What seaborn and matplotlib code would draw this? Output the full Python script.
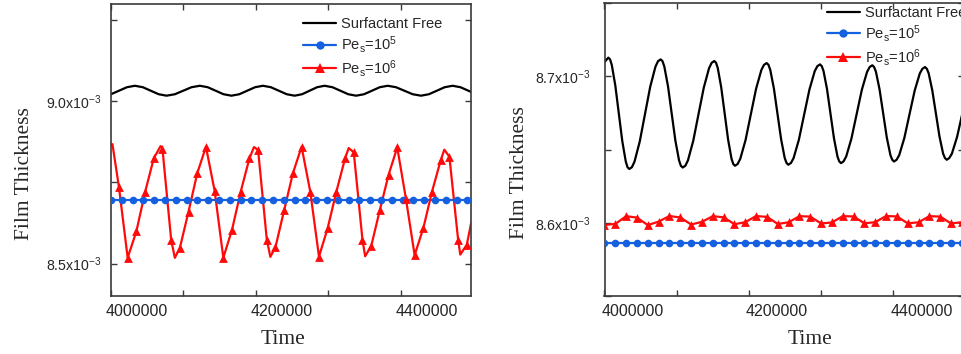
import numpy as np
import pandas as pd
import matplotlib
matplotlib.use("Agg")
import matplotlib.pyplot as plt
import matplotlib.transforms as mtransforms
from matplotlib.ticker import MultipleLocator, FuncFormatter
from matplotlib.lines import Line2D
import seaborn as sns

sns.set_style("ticks")
plt.rcParams["font.family"] = ["Liberation Sans", "DejaVu Sans"]
plt.rcParams["mathtext.fontset"] = "custom"
plt.rcParams["mathtext.rm"] = "Liberation Sans"
plt.rcParams["mathtext.it"] = "Liberation Sans"

# ---------------- data (film thickness in units of 1e-3) ----------------
legend_labels = ["Surfactant Free", r"Pe$_\mathregular{s}$=10$^\mathregular{5}$",
                 r"Pe$_\mathregular{s}$=10$^\mathregular{6}$"]

# Left panel: surfactant free (black)
left_free_t = [3989000, 4000000, 4011000, 4022000, 4033000, 4043900, 4054850, 4065800, 4076700,
               4088200, 4099650, 4111100, 4122600, 4133500, 4144400, 4155300, 4166200,
               4177100, 4187950, 4198800, 4209700, 4220600, 4231550, 4242500, 4253400,
               4263700, 4274050, 4284400, 4294700, 4305600, 4316500, 4327400, 4338300,
               4349200, 4360050, 4370900, 4381800, 4393300, 4404800, 4416300, 4427800,
               4438700, 4449600, 4460500, 4471400, 4482300, 4493200, 4504100]
left_free_v = [9.0174, 9.0219, 9.0327, 9.0435, 9.0480, 9.0435, 9.0327, 9.0219, 9.0174,
               9.0219, 9.0327, 9.0435, 9.0480, 9.0435, 9.0327, 9.0219, 9.0174,
               9.0219, 9.0327, 9.0435, 9.0480, 9.0435, 9.0327, 9.0219, 9.0174,
               9.0219, 9.0327, 9.0435, 9.0480, 9.0435, 9.0327, 9.0219, 9.0174,
               9.0219, 9.0327, 9.0435, 9.0480, 9.0435, 9.0327, 9.0219, 9.0174,
               9.0219, 9.0327, 9.0435, 9.0480, 9.0435, 9.0327, 9.0219]

# Left panel: Pe_s = 1e5 (blue, flat)
left_pe5_t = np.arange(34) * 14900 + 4000000
left_pe5_v = [8.695, 8.695, 8.695, 8.695, 8.695, 8.695, 8.695, 8.695, 8.695, 8.695,
              8.695, 8.695, 8.695, 8.695, 8.695, 8.695, 8.695, 8.695, 8.695, 8.695,
              8.695, 8.695, 8.695, 8.695, 8.695, 8.695, 8.695, 8.695, 8.695, 8.695,
              8.695, 8.695, 8.695, 8.695]

# Left panel: Pe_s = 1e6 (red) -- sampled points (markers)
left_pe6_t = np.arange(41) * 12000 + 4011000
left_pe6_v = [8.735, 8.518, 8.599, 8.720, 8.824, 8.854, 8.574, 8.548, 8.660, 8.778,
              8.860, 8.7245, 8.518, 8.604, 8.7215, 8.824, 8.850, 8.574, 8.551, 8.665,
              8.778, 8.860, 8.7215, 8.5215, 8.609, 8.7215, 8.824, 8.843, 8.574, 8.553,
              8.665, 8.773, 8.858, 8.700, 8.526, 8.609, 8.7215, 8.8185, 8.829, 8.574,
              8.558]
# extrema / edge points of the red curve between samples
left_pe6_ext_t = [4000000, 4002000, 4068400, 4088100, 4197300, 4219900, 4328000, 4350700,
                  4460000, 4482000, 4497000, 4500000]
left_pe6_ext_v = [8.866, 8.868, 8.862, 8.5176, 8.859, 8.5206, 8.856, 8.5225,
                  8.851, 8.5277, 8.625, 8.640]

# Right panel: surfactant free (black)
right_free_t = [4000000, 4005300, 4010130, 4014970, 4019800, 4024630, 4029470, 4034300,
                4041550, 4048800, 4056050, 4063300, 4070550, 4077800,
                4082880, 4087970, 4093050, 4098130, 4103220, 4108300,
                4115600, 4122900, 4130200, 4137500, 4144800, 4152100,
                4156870, 4161630, 4166400, 4171170, 4175930, 4180700,
                4188020, 4195330, 4202650, 4209970, 4217280, 4224600,
                4229600, 4234600, 4239600, 4244600, 4249600, 4254600,
                4261920, 4269230, 4276550, 4283870, 4291180, 4298500,
                4303330, 4308170, 4313000, 4317830, 4322670, 4327500,
                4334730, 4341970, 4349200, 4356430, 4363670, 4370900,
                4375920, 4380930, 4385950, 4390970, 4395980, 4401000,
                4408150, 4415300, 4422450, 4429600, 4436750, 4443900,
                4448920, 4453930, 4458950, 4463970, 4468980, 4474000,
                4481170, 4488330, 4495500, 4502670]
right_free_v = [8.7097, 8.7127, 8.7076, 8.6937, 8.6747, 8.6557, 8.6418, 8.6367,
                8.6417, 8.6554, 8.6741, 8.6928, 8.7065, 8.7115,
                8.7066, 8.6931, 8.6746, 8.6562, 8.6426, 8.6377,
                8.6426, 8.6559, 8.6741, 8.6922, 8.7055, 8.7104,
                8.7056, 8.6925, 8.6747, 8.6568, 8.6437, 8.6389,
                8.6436, 8.6564, 8.6740, 8.6915, 8.7043, 8.7090,
                8.7043, 8.6917, 8.6743, 8.6570, 8.6442, 8.6396,
                8.6442, 8.6567, 8.6739, 8.6910, 8.7035, 8.7081,
                8.7036, 8.6913, 8.6744, 8.6576, 8.6452, 8.6407,
                8.6452, 8.6574, 8.6741, 8.6908, 8.7030, 8.7075,
                8.7031, 8.6911, 8.6747, 8.6582, 8.6462, 8.6418,
                8.6461, 8.6579, 8.6741, 8.6902, 8.7020, 8.7063,
                8.7021, 8.6905, 8.6747, 8.6588, 8.6472, 8.6430,
                8.6472, 8.6586, 8.6743, 8.6899]
# extra points next to the peaks and troughs of the black curve (rounded tops)
right_free_ext_t = [4007750, 4074170, 4080340, 4148470, 4154480, 4220940, 4227100,
                    4294840, 4300920, 4367280, 4373410, 4440320, 4446410,
                    4031880, 4037930, 4105760, 4111950, 4178320, 4184360, 4252100, 4258260,
                    4325080, 4331110, 4398490, 4404580, 4471490, 4477580]
right_free_ext_v = [8.7115, 8.7103, 8.7103, 8.7092, 8.7092, 8.7078, 8.7078,
                    8.7069, 8.7069, 8.7063, 8.7063, 8.7051, 8.7051,
                    8.6379, 8.6379, 8.6389, 8.6389, 8.6401, 8.6401, 8.6408, 8.6408,
                    8.6419, 8.6419, 8.6430, 8.6430, 8.6442, 8.6442]

# Right panel: Pe_s = 1e5 (blue, flat)
right_pe5_t = np.arange(34) * 15000 + 4000000
right_pe5_v = [8.5864, 8.5864, 8.5864, 8.5864, 8.5864, 8.5864, 8.5864, 8.5864, 8.5864,
               8.5864, 8.5864, 8.5864, 8.5864, 8.5864, 8.5864, 8.5864, 8.5864, 8.5864,
               8.5864, 8.5864, 8.5864, 8.5864, 8.5864, 8.5864, 8.5864, 8.5864, 8.5864,
               8.5864, 8.5864, 8.5864, 8.5864, 8.5864, 8.5864, 8.5864]

# Right panel: Pe_s = 1e6 (red)
right_pe6_t = np.arange(34) * 15000 + 4000000
right_pe6_v = [8.5985, 8.5992, 8.6045, 8.6035, 8.5984, 8.6008, 8.6046, 8.6036,
               8.5988, 8.6006, 8.6045, 8.6037, 8.5990, 8.6004, 8.6046, 8.6040,
               8.5992, 8.6003, 8.6045, 8.6042, 8.5995, 8.6002, 8.6045, 8.6043,
               8.5996, 8.6004, 8.6046, 8.6043, 8.5996, 8.6003, 8.6045, 8.6042,
               8.5995, 8.6004]

x_ticks = [4000000, 4200000, 4400000]

# ---------------- styling ----------------
BLACK = "#000000"
BLUE = "#1460e0"
RED = "#ff0a0a"
SPINE = "#3a3a3a"
SCALE = 1e-3
LW = 1.6

W, H = 961, 354
fig = plt.figure(figsize=(W / 100, H / 100), dpi=100)
axL = fig.add_axes([111 / W, (H - 296) / H, 360 / W, 292 / H])
axR = fig.add_axes([604.5 / W, (H - 296) / H, 360 / W, 293 / H])


def sci_fmt(v, pos):
    return r"$\mathregular{%.1fx10^{-3}}$" % (v / SCALE)


def draw_panel(ax, free_t, free_v, p5_t, p5_v, p6_t, p6_v, p6_line_t, p6_line_v):
    sns.lineplot(x=free_t, y=np.array(free_v) * SCALE, ax=ax, color=BLACK, lw=LW,
                 estimator=None, sort=True)
    sns.lineplot(x=p5_t, y=np.array(p5_v) * SCALE, ax=ax, color=BLUE, lw=LW,
                 estimator=None, sort=True)
    sns.scatterplot(x=p5_t, y=np.array(p5_v) * SCALE, ax=ax, color=BLUE, marker="o",
                    s=30, linewidth=0, zorder=3)
    sns.lineplot(x=p6_line_t, y=np.array(p6_line_v) * SCALE, ax=ax, color=RED, lw=LW,
                 estimator=None, sort=True)
    sns.scatterplot(x=p6_t, y=np.array(p6_v) * SCALE, ax=ax, color=RED, marker="^",
                    s=40, linewidth=0, zorder=3)


# left panel
left_line_t = list(left_pe6_t) + left_pe6_ext_t
left_line_v = list(left_pe6_v) + left_pe6_ext_v
draw_panel(axL, left_free_t, left_free_v, left_pe5_t, left_pe5_v,
           left_pe6_t, left_pe6_v, left_line_t, left_line_v)
# right panel
draw_panel(axR, right_free_t + right_free_ext_t, right_free_v + right_free_ext_v,
           right_pe5_t, right_pe5_v, right_pe6_t, right_pe6_v, right_pe6_t, right_pe6_v)

axL.set_xlim(4000000, 4496800)
axL.set_ylim(8.4e-3, 9.3e-3)
axL.yaxis.set_major_locator(MultipleLocator(0.5e-3))
axL.yaxis.set_minor_locator(MultipleLocator(0.25e-3))

axR.set_xlim(4000000, 4498600)
axR.set_ylim(8.55e-3, 8.75e-3)
axR.yaxis.set_major_locator(MultipleLocator(0.1e-3))
axR.yaxis.set_minor_locator(MultipleLocator(0.05e-3))

handles = [Line2D([], [], color=BLACK, lw=LW),
           Line2D([], [], color=BLUE, lw=LW, marker="o", markersize=6, markeredgewidth=0),
           Line2D([], [], color=RED, lw=LW, marker="^", markersize=6.5, markeredgewidth=0)]

for ax, ypad, xoff, leg_anchor, ylab_x, xlab_x in [
        (axL, 7, -5, (0.533, 0.955), -0.215, 0.477),
        (axR, 10, -3, (0.617, 0.99), -0.211, 0.571)]:
    ax.set_xticks(x_ticks)
    ax.xaxis.set_minor_locator(MultipleLocator(100000))
    ax.xaxis.set_major_formatter(FuncFormatter(lambda v, p: "%d" % v))
    ax.yaxis.set_major_formatter(FuncFormatter(sci_fmt))
    ax.tick_params(axis="both", which="both", direction="in", top=True, right=True,
                   length=4, width=1.0, color=SPINE)
    ax.tick_params(axis="x", which="major", pad=6, labelsize=11.5)
    ax.tick_params(axis="y", which="major", pad=ypad, labelsize=10.2)
    for sp in ax.spines.values():
        sp.set_visible(True)
        sp.set_color(SPINE)
        sp.set_linewidth(1.2)
    offset = mtransforms.ScaledTranslation(xoff / 100, 0, fig.dpi_scale_trans)
    for tk in ax.xaxis.get_major_ticks():
        tk.label1.set_horizontalalignment("left")
        tk.label1.set_transform(tk.label1.get_transform() + offset)
    ax.set_xlabel("Time", family=["Liberation Serif", "DejaVu Serif"], fontsize=15.5)
    ax.set_ylabel("Film Thickness", family=["Liberation Serif", "DejaVu Serif"], fontsize=15.5)
    ax.xaxis.set_label_coords(xlab_x, -0.115)
    ax.yaxis.set_label_coords(ylab_x, 0.42)
    leg = ax.legend(handles, legend_labels, loc="upper left", bbox_to_anchor=leg_anchor,
                    frameon=False, fontsize=10.5, handlelength=2.3, handletextpad=0.3,
                    labelspacing=0.2, borderaxespad=0, borderpad=0)

fig.savefig("out.png", dpi=100)
